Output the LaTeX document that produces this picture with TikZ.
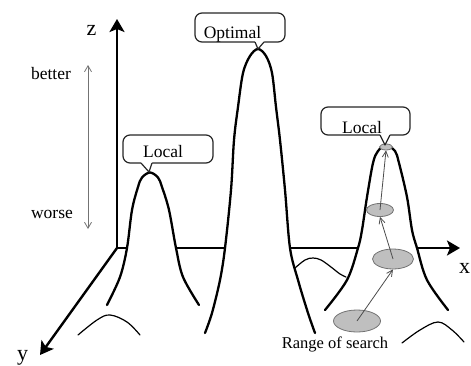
\documentclass[tikz,border=0pt]{standalone}
\usepackage{fontspec}
\setmainfont{Liberation Serif}
\usetikzlibrary{arrows.meta,shapes.geometric}

\begin{document}
\begin{tikzpicture}[x=1pt,y=-1pt,
  axis/.style={line width=2.4pt, black, -{Stealth[length=13pt,width=15pt,inset=3pt]}},
  peak/.style={line width=2.3pt, black, line join=round, line cap=round, preaction={fill=white}},
  bump/.style={line width=1.2pt, black, line cap=round},
  bubble/.style={draw=black!85, line width=1.2pt, rounded corners=7pt, fill=white, inner sep=0pt},
  tail/.style={draw=black!85, line width=1.2pt, line join=round},
  lbl/.style={font=\fontsize{17.5}{20}\selectfont, inner sep=0pt, anchor=base},
  axlbl/.style={font=\fontsize{22}{24}\selectfont, inner sep=0pt, anchor=base},
  spot/.style={ellipse, draw=black!55, fill=black!25, line width=0.8pt, inner sep=0pt},
  hop/.style={draw=black!70, line width=0.8pt, -{Straight Barb[length=6pt,width=6pt]}},
  scalearrow/.style={draw=black!55, line width=0.8pt,
    {Straight Barb[length=6pt,width=7pt]}-{Straight Barb[length=6pt,width=7pt]}},
]
\useasboundingbox (0,0) rectangle (471,365);

% axes
\coordinate (O) at (117,248);
\coordinate (ztip) at (117,19);
\coordinate (xtip) at (460,248);
\coordinate (ytip) at (40,355);
\draw[axis] (O) -- (ztip);
\draw[axis] (O) -- (xtip);
\draw[axis] (O) -- (ytip);
\node[axlbl] (zl) at (91.5,35) {z};
\node[axlbl] (xl) at (464.5,273) {x};
\node[axlbl] (yl) at (22.5,360) {y};

% better / worse scale
\coordinate (up) at (88,65);
\coordinate (down) at (88,229);
\draw[scalearrow] (down) -- (up);
\node[lbl] (better) at (51,79) {better};
\node[lbl] (worse) at (52,218) {worse};

% hills (white fill hides the x axis behind them)
\draw[peak] plot[smooth, tension=0.55] coordinates {
  (107,305) (120,277) (127,248) (132,210) (138,187) (142,177.5) (150,172.5)
  (158,177.5) (162,187) (169,210) (176,248) (183,277) (199,305)};
\draw[peak] plot[smooth, tension=0.55] coordinates {
  (205,333) (212,313) (220,280) (225,248) (231,190) (234,140) (238,107)
  (243,73) (250,56) (258,49) (266,56) (272,73) (276,107) (280,140)
  (285,190) (290,248) (298,280) (308,313) (315,333)};
\draw[peak] plot[smooth, tension=0.55] coordinates {
  (325,310) (347,280) (358,248) (362,230) (367,197) (373,163) (378,151)
  (386,145.5) (395,151) (399,163) (407,197) (412,230) (417,248) (427,280) (448,310)};

% small shadow bumps
\draw[bump] plot[smooth, tension=0.6] coordinates {
  (78,335) (97,320) (110,315) (127,322) (140,335)};
\draw[bump] plot[smooth, tension=0.6] coordinates {
  (295,268) (305,260) (313,258) (321,260) (331,267) (340,274) (346,277)};
\draw[bump] plot[smooth, tension=0.6] coordinates {
  (402,343) (420,330) (438,322) (452,330) (464,342)};

% search steps
\node[spot, minimum width=13pt, minimum height=6pt] (e1) at (386,147) {};
\node[spot, minimum width=27pt, minimum height=13pt] (e2) at (380,210) {};
\node[spot, minimum width=41pt, minimum height=20pt] (e3) at (393,259) {};
\node[spot, minimum width=47pt, minimum height=22pt] (e4) at (357,321) {};
\draw[hop] (e4.center) -- (e3.south);
\draw[hop] (e3.center) -- (e2.south);
\draw[hop] (e2.center) -- (e1.south);
\node[lbl, font=\fontsize{16.5}{19}\selectfont] (searchlbl) at (335,348) {Range of search};

% callouts
\node[bubble, minimum width=90pt, minimum height=29pt] (optbox) at (240,27.5) {};
\coordinate (optapex) at (258,49);
\fill[white] (255,40.5) -- (255,42) -- (optapex) -- (264,42) -- (264,40.5) -- cycle;
\draw[tail] (255,42) -- (optapex) -- (264,42);
\node[lbl] (opt) at (232.5,38.5) {Optimal};

\node[bubble, minimum width=90pt, minimum height=28pt] (lbox) at (168,149) {};
\coordinate (lapex) at (149,172);
\fill[white] (141,161.5) -- (141,163) -- (lapex) -- (152,163) -- (152,161.5) -- cycle;
\draw[tail] (141,163) -- (lapex) -- (152,163);
\node[lbl] (lloc) at (163,157.5) {Local};

\node[bubble, minimum width=89pt, minimum height=28pt] (rbox) at (365.5,121) {};
\coordinate (rapex) at (385,145);
\fill[white] (380,133.5) -- (380,135) -- (rapex) -- (390,135) -- (390,133.5) -- cycle;
\draw[tail] (380,135) -- (rapex) -- (390,135);
\node[lbl] (rloc) at (362,133) {Local};
\end{tikzpicture}
\end{document}
